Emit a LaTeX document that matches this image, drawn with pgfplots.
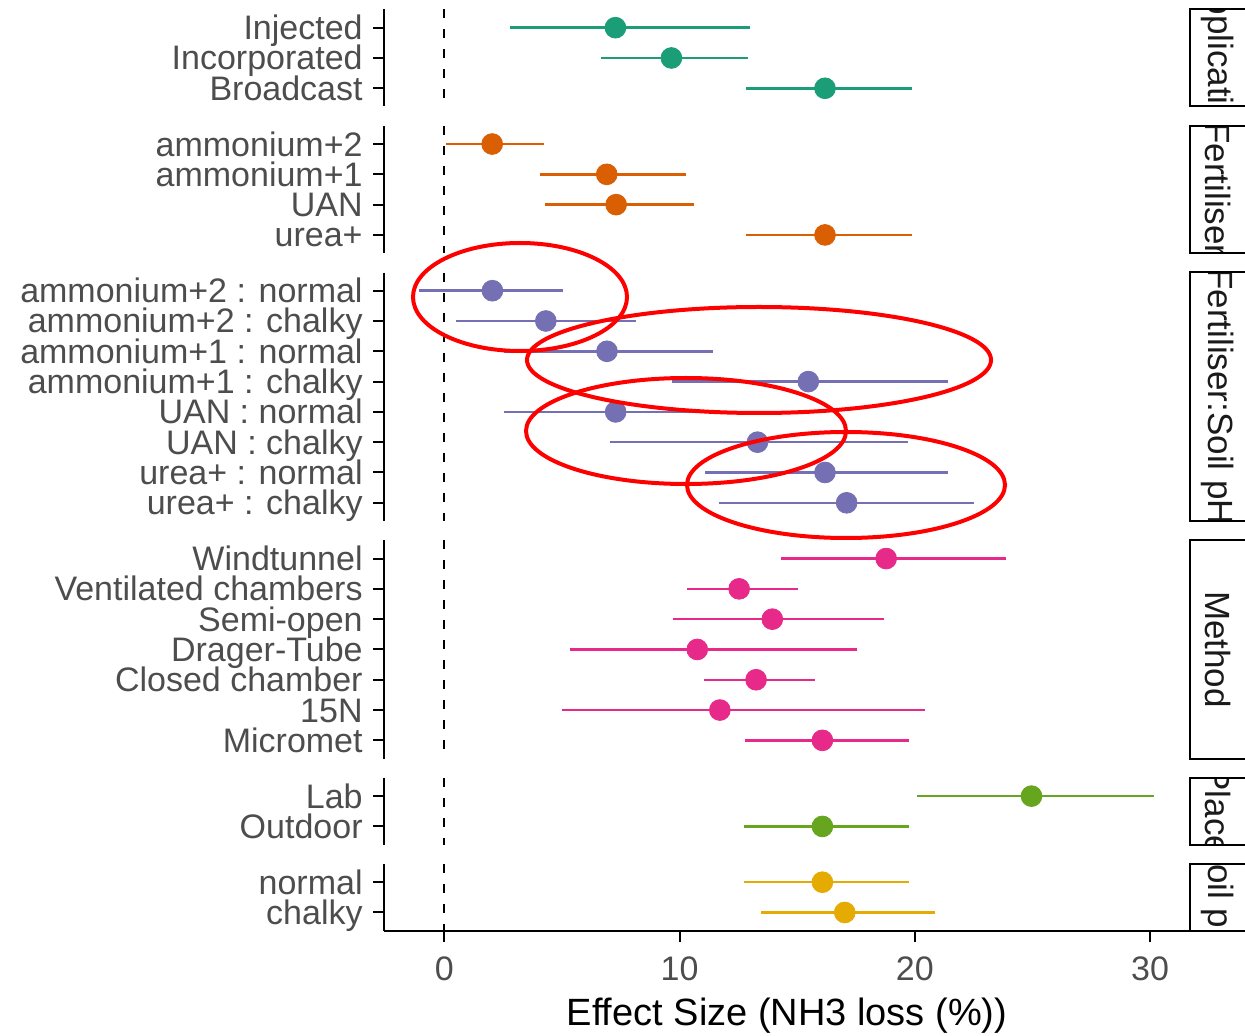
\documentclass[border=0pt]{standalone}
\usepackage{pgfplots}
\pgfplotsset{compat=1.18}
\usepackage{pgfplotstable}
\usepackage{fontspec}
\setmainfont{Liberation Sans}
\definecolor{cA}{HTML}{1B9E77}
\definecolor{cB}{HTML}{D95F02}
\definecolor{cC}{HTML}{7570B3}
\definecolor{cD}{HTML}{E7298A}
\definecolor{cE}{HTML}{66A61E}
\definecolor{cF}{HTML}{E6AB02}
\definecolor{txt}{HTML}{4D4D4D}
\definecolor{striptxt}{HTML}{1A1A1A}

\pgfplotstableread{
y est lo hi
1 7.27 2.77 13.00
2 9.65 6.66 12.90
3 16.18 12.83 19.90
}\tA
\pgfplotstableread{
y est lo hi
1 2.03 0.07 4.24
2 6.90 4.08 10.29
3 7.30 4.29 10.63
4 16.18 12.83 19.90
}\tB
\pgfplotstableread{
y est lo hi
1 2.04 -1.09 5.05
2 4.31 0.50 8.15
3 6.91 2.54 11.43
4 15.47 9.66 21.40
5 7.28 2.54 11.93
6 13.31 7.05 19.69
7 16.18 11.08 21.40
8 17.10 11.66 22.52
}\tC
\pgfplotstableread{
y est lo hi
1 18.78 14.33 23.88
2 12.53 10.32 15.03
3 13.94 9.72 18.67
4 10.75 5.33 17.52
5 13.25 11.02 15.74
6 11.71 5.00 20.45
7 16.07 12.79 19.76
}\tD
\pgfplotstableread{
y est lo hi
1 24.96 20.08 30.17
2 16.07 12.75 19.76
}\tE
\pgfplotstableread{
y est lo hi
1 16.07 12.75 19.76
2 17.02 13.46 20.84
}\tF

\pgfplotsset{
  panel/.style={
    scale only axis, width=403pt,
    xmin=-2.57, xmax=31.7,
    y dir=reverse, ymin=0.4,
    axis y line*=left,
    hide x axis,
    tick align=outside,
    major tick length=5.5pt,
    tick style={black, line width=1pt},
    axis line style={black, line width=1pt},
    tick label style={font=\fontsize{17}{17}\selectfont, text=txt},
    yticklabel style={inner xsep=0pt, anchor=base east, xshift=-5pt, yshift=-6pt},
    clip=false,
    anchor=north west,
  },
  lastpanel/.style={
    hide x axis=false,
    axis x line*=bottom,
    xtick={0,10,20,30},
    xticklabel style={yshift=-4pt},
    /pgf/number format/assume math mode=true,
    xlabel={Effect Size (NH3 loss (\%))},
    xlabel style={font=\fontsize{19}{19}\selectfont, text=black, yshift=-1.5pt},
  },
}

\newcommand{\panelplots}[3]{%
  \addplot[black, line width=1pt, dash pattern=on 4.5pt off 5.5pt] coordinates {(0,0.4) (0,#2)};
  \addplot[draw=none, mark=none, forget plot,
    error bars/.cd, x dir=both, x explicit,
    error mark=none,
    error bar style={draw=#3, line width=1.25pt}]
    table[x=est, y=y,
      x error plus expr=\thisrow{hi}-\thisrow{est},
      x error minus expr=\thisrow{est}-\thisrow{lo}] {#1};
  \addplot[only marks, mark=*, mark size=5.2pt, color=#3, mark options={draw=none, fill=#3}]
    table[x=est, y=y] {#1};
}

\begin{document}
\begin{tikzpicture}
\path[use as bounding box] (0,0) rectangle (622.5pt,-518pt);

\begin{axis}[panel, at={(192pt,-4.75pt)}, height=48.48pt, ymax=3.6,
  ytick={1,2,3}, yticklabels={Injected,Incorporated,Broadcast}]
\panelplots{\tA}{3.6}{cA}
\end{axis}

\begin{axis}[panel, at={(192pt,-62.93pt)}, height=63.63pt, ymax=4.6,
  ytick={1,2,3,4}, yticklabels={ammonium+2,ammonium+1,UAN,urea+}]
\panelplots{\tB}{4.6}{cB}
\end{axis}

\begin{axis}[panel, at={(192pt,-136.26pt)}, height=124.23pt, ymax=8.6,
  ytick={1,...,8}, yticklabels={ammonium+2 : normal,ammonium+2 : chalky,ammonium+1 : normal,ammonium+1 : chalky,UAN : normal,UAN : chalky,urea+ : normal,urea+ : chalky}]
\panelplots{\tC}{8.6}{cC}
\end{axis}

\begin{axis}[panel, at={(192pt,-270.19pt)}, height=109.08pt, ymax=7.6,
  ytick={1,...,7}, yticklabels={Windtunnel,Ventilated chambers,Semi-open,Drager-Tube,Closed chamber,15N,Micromet}]
\panelplots{\tD}{7.6}{cD}
\end{axis}

\begin{axis}[panel, at={(192pt,-388.97pt)}, height=33.33pt, ymax=2.6,
  ytick={1,2}, yticklabels={Lab,Outdoor}]
\panelplots{\tE}{2.6}{cE}
\end{axis}

\begin{axis}[panel, lastpanel, at={(192pt,-432.0pt)}, height=33.33pt, ymax=2.6,
  ytick={1,2}, yticklabels={normal,chalky}]
\panelplots{\tF}{2.6}{cF}
\end{axis}

\begin{scope}[x=0.5pt, y=-0.5pt]
  \foreach \t/\b/\lab in {9.5/106.5/Application, 125.9/253.1/Fertiliser, 272.5/521/Fertiliser:Soil pH, 540.4/758.6/Method, 778/844.6/Place, 864/930.7/Soil pH}{
    \begin{scope}
      \clip (1190,\t) rectangle (1270,\b);
      \node[rotate=-90, font=\fontsize{17.5}{17.5}\selectfont, text=striptxt, inner sep=0pt] at (1218,{(\t+\b)/2}) {\lab};
    \end{scope}
    \draw[black, line width=1pt] (1190,\t) rectangle (1270,\b);
  }
  \draw[red, line width=2pt] (520,297) ellipse [x radius=107, y radius=54];
  \draw[red, line width=2pt] (759,360) ellipse [x radius=232, y radius=53];
  \draw[red, line width=2pt] (686,431) ellipse [x radius=160, y radius=53];
  \draw[red, line width=2pt] (846,485) ellipse [x radius=159, y radius=53];
\end{scope}
\end{tikzpicture}
\end{document}
